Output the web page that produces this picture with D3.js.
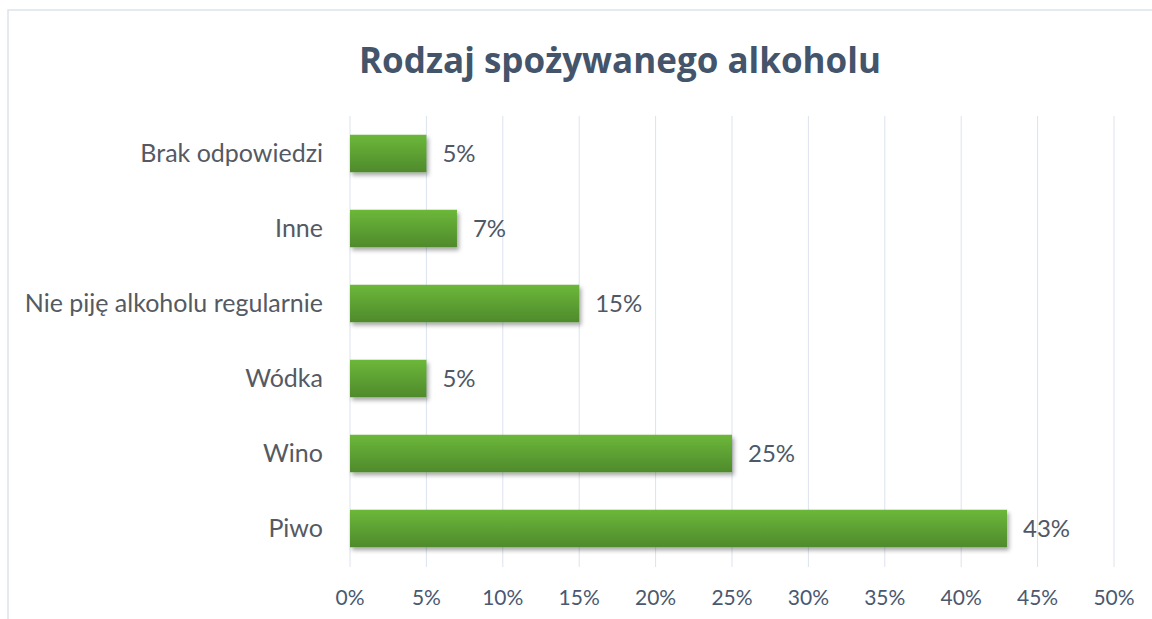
<!DOCTYPE html>
<html lang="en">
<head>
    <meta charset="UTF-8">
    <script src="https://cdn.jsdelivr.net/npm/d3@7"></script>
    <title>Rodzaj spożywanego alkoholu</title>
    <style>
        body { margin: 0; background: white; }
        text { font-family: Lato, "Open Sans", sans-serif; }
    </style>
</head>
<body>
    <script>
        // ---------------- data ----------------
        const categories = ["Brak odpowiedzi", "Inne", "Nie piję alkoholu regularnie", "Wódka", "Wino", "Piwo"];
        const values = [5, 7, 15, 5, 25, 43];
        const ticks = [0, 5, 10, 15, 20, 25, 30, 35, 40, 45, 50];
        const title = "Rodzaj spożywanego alkoholu";

        // ---------------- layout ----------------
        const width = 1152, height = 619;
        const plot = { left: 350, right: 1114, top: 116, bottom: 566 };

        const svg = d3.select("body").append("svg")
            .attr("width", width)
            .attr("height", height);

        // gradient + shadow for the bars
        const defs = svg.append("defs");
        const grad = defs.append("linearGradient")
            .attr("id", "barGrad")
            .attr("x1", 0).attr("y1", 0).attr("x2", 0).attr("y2", 1);
        grad.append("stop").attr("offset", "0%").attr("stop-color", "#6cb83a");
        grad.append("stop").attr("offset", "100%").attr("stop-color", "#4f8a2c");

        const shadow = defs.append("filter")
            .attr("id", "shadow")
            .attr("x", "-10%").attr("y", "-20%").attr("width", "130%").attr("height", "160%");
        shadow.append("feDropShadow")
            .attr("dx", 2).attr("dy", 3).attr("stdDeviation", 2)
            .attr("flood-color", "#000").attr("flood-opacity", 0.35);

        // chart border
        svg.append("rect")
            .attr("x", 8).attr("y", 10)
            .attr("width", width + 20).attr("height", height + 20)
            .attr("fill", "none")
            .attr("stroke", "#dde3ec")
            .attr("stroke-width", 1.5);

        // scales
        const x = d3.scaleLinear().domain([0, 50]).range([plot.left, plot.right]);
        const y = d3.scaleBand().domain(categories).range([plot.top, plot.bottom]).paddingInner(0.5).paddingOuter(0.25);

        // gridlines
        svg.append("g")
            .selectAll("line")
            .data(ticks)
            .join("line")
            .attr("x1", d => x(d)).attr("x2", d => x(d))
            .attr("y1", plot.top).attr("y2", plot.bottom + 1)
            .attr("stroke", "#dce3ee")
            .attr("stroke-width", 1);

        // x tick labels
        svg.append("g")
            .selectAll("text")
            .data(ticks)
            .join("text")
            .attr("x", d => x(d))
            .attr("y", 605)
            .attr("text-anchor", "middle")
            .attr("font-size", 21)
            .attr("fill", "#4a5870")
            .text(d => d + "%");

        // bars
        svg.append("g")
            .selectAll("rect")
            .data(values)
            .join("rect")
            .attr("x", x(0))
            .attr("y", (d, i) => y(categories[i]))
            .attr("width", d => x(d) - x(0))
            .attr("height", y.bandwidth())
            .attr("fill", "url(#barGrad)")
            .attr("filter", "url(#shadow)");

        // data labels
        svg.append("g")
            .selectAll("text")
            .data(values)
            .join("text")
            .attr("x", d => x(d) + 16)
            .attr("y", (d, i) => y(categories[i]) + y.bandwidth() / 2)
            .attr("dy", "0.35em")
            .attr("font-size", 24)
            .attr("fill", "#4f5866")
            .text(d => d + "%");

        // category labels
        svg.append("g")
            .selectAll("text")
            .data(categories)
            .join("text")
            .attr("x", 323)
            .attr("y", d => y(d) + y.bandwidth() / 2)
            .attr("dy", "0.35em")
            .attr("text-anchor", "end")
            .attr("font-size", 25)
            .attr("fill", "#555a62")
            .text(d => d);

        // title
        svg.append("text")
            .attr("x", 620)
            .attr("y", 73)
            .attr("text-anchor", "middle")
            .attr("font-size", 35)
            .attr("font-weight", "bold")
            .attr("fill", "#44546a")
            .style("font-family", "'Open Sans', sans-serif")
            .text(title);
    </script>
</body>
</html>
